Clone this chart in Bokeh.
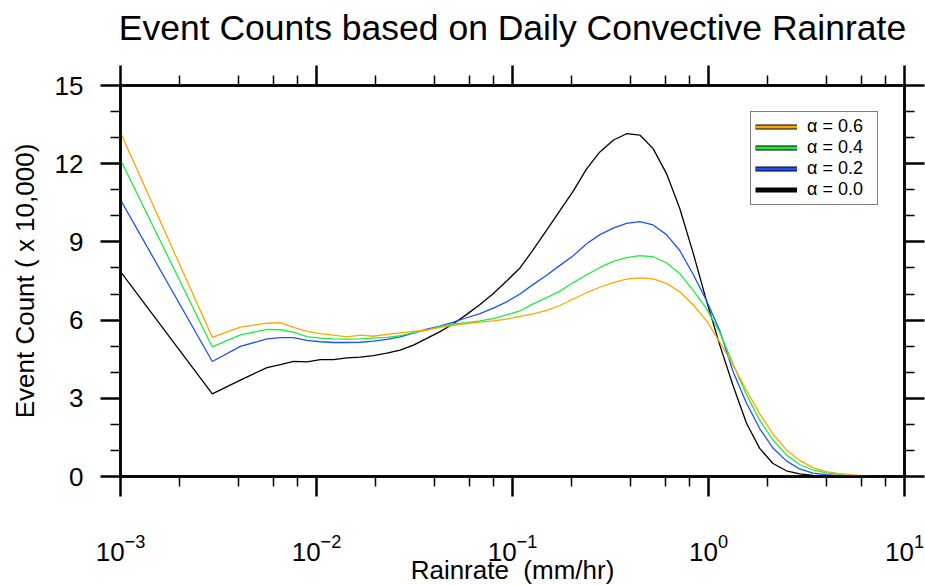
from bokeh.plotting import figure
from bokeh.models import (FixedTicker, LogAxis, LinearAxis, Legend, LegendItem,
                          LogTickFormatter, CustomJSTickFormatter, Range1d)
from bokeh.embed import file_html
from bokeh.resources import INLINE

# ---------------- data ----------------
rainrate = [0.001, 0.00294, 0.00409, 0.00559, 0.00654, 0.00764, 0.00894, 0.01045,
            0.01222, 0.01429, 0.01671, 0.01953, 0.02286, 0.02672, 0.03124, 0.03654,
            0.04272, 0.04994, 0.05841, 0.0683, 0.07985, 0.09343, 0.1092, 0.1276,
            0.1494, 0.1746, 0.2041, 0.2388, 0.2792, 0.3264, 0.3818, 0.4463, 0.5218,
            0.6105, 0.7137, 0.8346, 0.9761, 1.141, 1.334, 1.561, 1.824, 2.133, 2.496,
            2.917, 3.411, 3.99, 4.665, 5.454, 6.381]

count_a06 = [13.2, 5.34, 5.73, 5.88, 5.90, 5.72, 5.57, 5.48, 5.42, 5.36, 5.42, 5.38,
             5.45, 5.51, 5.57, 5.62, 5.72, 5.80, 5.87, 5.92, 5.97, 6.04, 6.14, 6.24,
             6.37, 6.56, 6.81, 7.05, 7.26, 7.44, 7.57, 7.62, 7.58, 7.41, 7.09, 6.59,
             5.98, 5.16, 4.28, 3.32, 2.41, 1.63, 1.02, 0.62, 0.34, 0.19, 0.11, 0.06, 0.02]

count_a04 = [12.15, 4.97, 5.43, 5.64, 5.63, 5.54, 5.37, 5.31, 5.28, 5.27, 5.28, 5.31,
             5.34, 5.40, 5.52, 5.62, 5.75, 5.85, 5.90, 5.97, 6.06, 6.20, 6.35, 6.62,
             6.86, 7.11, 7.44, 7.74, 8.02, 8.25, 8.40, 8.47, 8.43, 8.20, 7.78, 7.14,
             6.45, 5.53, 4.32, 3.15, 2.16, 1.40, 0.83, 0.46, 0.25, 0.14, 0.08, 0.04, 0.01]

count_a02 = [10.61, 4.41, 4.99, 5.28, 5.33, 5.33, 5.22, 5.17, 5.14, 5.14, 5.15, 5.19,
             5.26, 5.36, 5.50, 5.65, 5.77, 5.92, 6.09, 6.25, 6.46, 6.70, 7.00, 7.37,
             7.72, 8.10, 8.47, 8.93, 9.28, 9.53, 9.71, 9.78, 9.65, 9.28, 8.67, 7.76,
             6.75, 5.60, 4.03, 2.82, 1.84, 1.09, 0.60, 0.29, 0.13, 0.07, 0.03, 0.01, 0.0]

count_a00 = [7.86, 3.17, 3.70, 4.18, 4.29, 4.42, 4.40, 4.48, 4.48, 4.55, 4.58, 4.64,
             4.73, 4.85, 5.04, 5.30, 5.56, 5.86, 6.22, 6.60, 7.02, 7.50, 8.00, 8.70,
             9.45, 10.20, 10.95, 11.80, 12.45, 12.90, 13.15, 13.10, 12.58, 11.62, 10.28,
             8.58, 6.75, 5.05, 3.49, 2.05, 1.08, 0.50, 0.22, 0.10, 0.04, 0.01, 0.0, 0.0, 0.0]

series_labels = ["\u03b1 = 0.6", "\u03b1 = 0.4", "\u03b1 = 0.2", "\u03b1 = 0.0"]
series_colors = ["#FFA500", "#1EEE3A", "#1E50FF", "#000000"]

x_major_ticks = [0.001, 0.01, 0.1, 1.0, 10.0]
x_minor_ticks = [0.002, 0.004, 0.006, 0.008, 0.02, 0.04, 0.06, 0.08,
                 0.2, 0.4, 0.6, 0.8, 2.0, 4.0, 6.0, 8.0]
y_major_ticks = [0, 3, 6, 9, 12, 15]
y_minor_ticks = [1, 2, 4, 5, 7, 8, 10, 11, 13, 14]

title_text = "Event Counts based on Daily Convective Rainrate"
x_label = "Rainrate \u00a0(mm/hr)"
y_label = "Event Count ( x 10,000)"

FONT = "Liberation Sans"
NAN = float("nan")

# ---------------- figure ----------------
p = figure(frame_width=784, frame_height=391,
           x_axis_type="log", x_range=Range1d(1e-3, 10), y_range=Range1d(0, 15),
           output_backend="svg", toolbar_location=None,
           min_border_left=120, min_border_right=21,
           min_border_top=85, min_border_bottom=109,
           background_fill_color="white", border_fill_color="white")

p.xgrid.visible = False
p.ygrid.visible = False
p.outline_line_color = "black"
p.outline_line_width = 2.5


def style_axis(ax, show_labels=True):
    ax.axis_line_width = 2.5
    ax.axis_line_color = "black"
    ax.major_tick_line_width = 2.5
    ax.minor_tick_line_width = 1.5
    ax.major_tick_line_color = "black"
    ax.minor_tick_line_color = "black"
    ax.major_tick_in = 0
    ax.major_tick_out = 20
    ax.minor_tick_in = 0
    ax.minor_tick_out = 10
    ax.major_label_text_font = FONT
    ax.major_label_text_color = "black"
    ax.axis_label_text_font = FONT
    ax.axis_label_text_font_size = "26px"
    ax.axis_label_text_font_style = "normal"
    ax.axis_label_text_color = "black"
    if show_labels:
        ax.major_label_text_font_size = "26px"
    else:
        ax.major_label_text_font_size = "0px"
        ax.major_label_standoff = 0
        ax.axis_label_standoff = 0
        ax.formatter = CustomJSTickFormatter(code="return ''")


xticker = FixedTicker(ticks=x_major_ticks, minor_ticks=x_minor_ticks)
yticker = FixedTicker(ticks=y_major_ticks, minor_ticks=y_minor_ticks)

xax = p.xaxis[0]
xax.ticker = xticker
xax.formatter = LogTickFormatter()
xax.axis_label = x_label
style_axis(xax)
xax.major_label_standoff = 37
xax.axis_label_standoff = -9

yax = p.yaxis[0]
yax.ticker = yticker
yax.axis_label = y_label
style_axis(yax)
yax.major_label_standoff = 17
yax.axis_label_standoff = 12

# top axis: ticks only; its axis title carries the chart title
top_ax = LogAxis(ticker=FixedTicker(ticks=x_major_ticks, minor_ticks=x_minor_ticks))
style_axis(top_ax, show_labels=False)
top_ax.axis_label = title_text
top_ax.axis_label_text_font_size = "35.5px"
top_ax.axis_label_standoff = 18
p.add_layout(top_ax, "above")

right_ax = LinearAxis(ticker=FixedTicker(ticks=y_major_ticks, minor_ticks=y_minor_ticks))
style_axis(right_ax, show_labels=False)
p.add_layout(right_ax, "right")

# ---------------- lines ----------------
all_counts = [count_a06, count_a04, count_a02, count_a00]
for ys, color in reversed(list(zip(all_counts, series_colors))):
    p.line(rainrate, ys, line_color=color, line_width=1.3)

# ---------------- legend (thick swatches with black edge) ----------------
items = []
for label, color in zip(series_labels, series_colors):
    rs = [p.line([NAN], [NAN], line_color="black", line_width=5)]
    if color != "#000000":
        rs.append(p.line([NAN], [NAN], line_color=color, line_width=3))
    items.append(LegendItem(label=label, renderers=rs))

legend = Legend(items=items, location="top_right", margin=26,
                border_line_color="black", border_line_width=1.2,
                background_fill_color="white", background_fill_alpha=1.0,
                label_text_font=FONT, label_text_font_size="18px",
                label_text_color="black",
                glyph_width=42, glyph_height=19, label_height=19, label_width=66,
                spacing=0, padding=4, label_standoff=10)
p.add_layout(legend)

open("out.html", "w").write(file_html(p, INLINE))
